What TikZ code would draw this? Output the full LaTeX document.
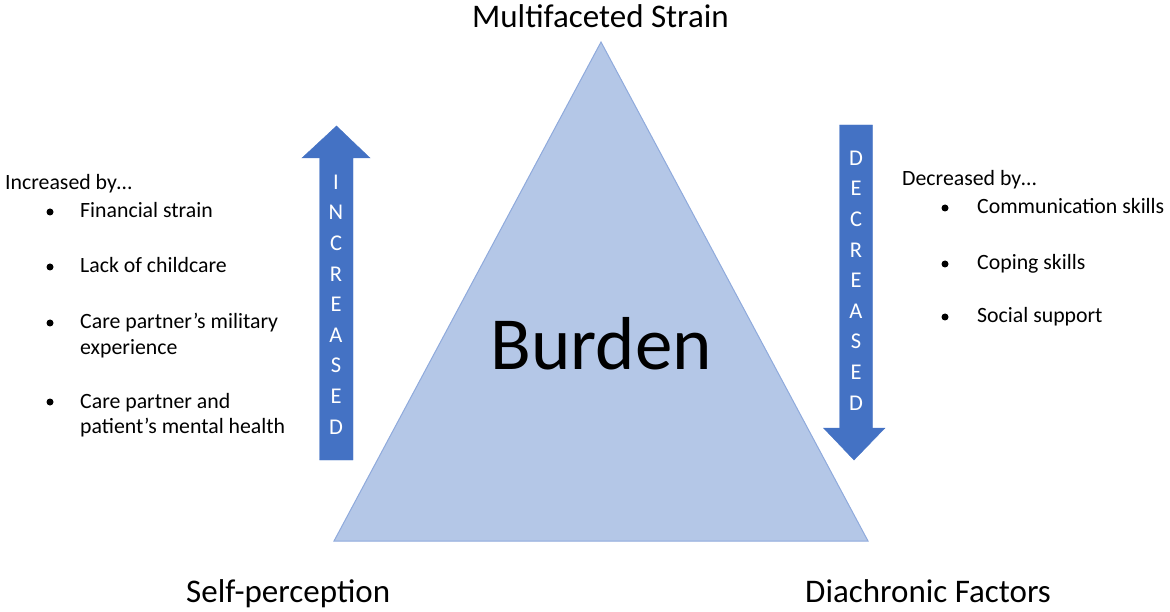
\documentclass[tikz,border=0pt]{standalone}
\usepackage{fontspec}
\setmainfont{Carlito}
\definecolor{arrowblue}{HTML}{4472C4}
\definecolor{trifill}{HTML}{B4C7E7}
\definecolor{triline}{HTML}{8FAADC}
\begin{document}
\begin{tikzpicture}[x=1pt,y=-1pt,
  lbl/.style={inner sep=0pt, font=\fontsize{21.8}{26}\selectfont},
  big/.style={inner sep=0pt, font=\fontsize{33}{38}\selectfont},
  bul/.style={circle, fill=black, inner sep=0pt, minimum size=7pt},
  vtext/.style={inner sep=0pt, text=white, align=center, font=\fontsize{22.5}{30.6}\selectfont},
  arrowshape/.style={fill=arrowblue, draw=arrowblue, line width=0.4pt}]
\useasboundingbox (0,0) rectangle (1170,612);
% triangle
\coordinate (apex) at (601,42);
\coordinate (bl) at (334,541);
\coordinate (br) at (868,541);
\draw[fill=trifill, draw=triline, line width=1pt] (apex) -- (bl) -- (br) -- cycle;
\node[inner sep=0pt, font=\fontsize{75}{82}\selectfont, anchor=base] (burden) at (601,370) {Burden};
% labels at corners
\node[big, anchor=base] (top) at (600.5,27.5) {Multifaceted Strain};
\node[big, anchor=base west] (sp) at (186,602.5) {Self-perception};
\node[big, anchor=base west] (df) at (805,602.5) {Diachronic Factors};
% increased arrow
\draw[arrowshape] (319.5,460) -- (319.5,158) -- (302,158) -- (336.5,126) -- (370,158) -- (353,158) -- (353,460) -- cycle;
\node[vtext] (inc) at (336,304.5) {I\\N\\C\\R\\E\\A\\S\\E\\D};
% decreased arrow
\draw[arrowshape] (839.5,125) -- (872.5,125) -- (872.5,428) -- (885,428) -- (854,460) -- (823.5,428) -- (839.5,428) -- cycle;
\node[vtext] (dec) at (856,280.5) {D\\E\\C\\R\\E\\A\\S\\E\\D};
% left list
\node[lbl, anchor=base west] (incby) at (5,190) {Increased by\ldots};
\node[bul] (b1) at (50,212) {};
\node[lbl, anchor=base west] (l1) at (80,218) {Financial strain};
\node[bul] (b2) at (50,267) {};
\node[lbl, anchor=base west] (l2) at (80,273) {Lack of childcare};
\node[bul] (b3) at (50,323) {};
\node[lbl, anchor=base west] (l3a) at (80,329) {Care partner’s military};
\node[lbl, anchor=base west] (l3b) at (80,354) {experience};
\node[bul] (b4) at (50,402) {};
\node[lbl, anchor=base west] (l4a) at (80,408) {Care partner and};
\node[lbl, anchor=base west] (l4b) at (80,433) {patient’s mental health};
% right list
\node[lbl, anchor=base west] (decby) at (902,186) {Decreased by\ldots};
\node[bul] (c1) at (945,208) {};
\node[lbl, anchor=base west] (r1) at (977,214) {Communication skills};
\node[bul] (c2) at (945,264) {};
\node[lbl, anchor=base west] (r2) at (977,270) {Coping skills};
\node[bul] (c3) at (945,317) {};
\node[lbl, anchor=base west] (r3) at (977,323) {Social support};
\end{tikzpicture}
\end{document}
